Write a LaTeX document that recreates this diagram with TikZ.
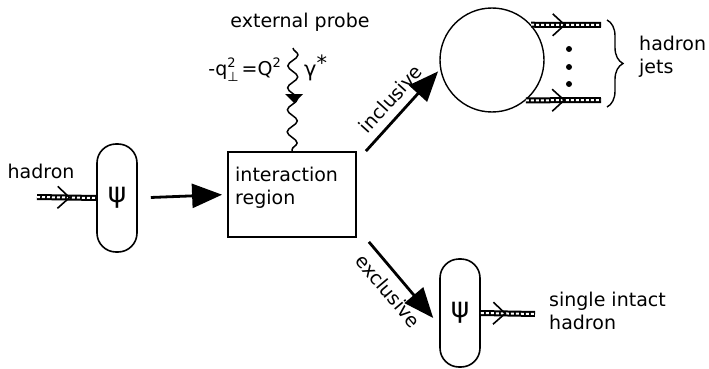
\documentclass[tikz,border=0pt]{standalone}
\usepackage{fontspec}
\setmainfont{DejaVu Sans}
\usetikzlibrary{arrows.meta,decorations.pathmorphing,decorations.pathreplacing,decorations.markings}
\newcommand{\smallsup}[2]{\raisebox{#1}{\fontsize{13}{13}\selectfont #2}}
\begin{document}
\begin{tikzpicture}[x=1pt,y=-1pt,
  lbl/.style={font=\fontsize{19}{22.5}\selectfont, align=left, inner sep=0pt},
  capsule/.style={draw, line width=1.6pt, rounded corners=19pt, minimum width=40pt, minimum height=108pt, inner sep=0pt, font=\fontsize{28}{28}\selectfont},
  bigarrow/.style={line width=2.8pt, -{Triangle[length=30pt,width=24pt]}},
  hadronline/.style={line width=6pt, postaction={draw=white, line width=2pt, dash pattern=on 3pt off 2pt}, postaction={decorate, decoration={markings, mark=at position #1 with {\draw[black, line width=1.6pt, solid] (-12pt,11pt) -- (0pt,0pt) -- (-12pt,-11pt);}}}},
  photon/.style={line width=1.5pt, decorate, decoration={snake, amplitude=5pt, segment length=22pt}}]
\useasboundingbox (0,0) rectangle (709,369);
\node[lbl] (hadlbl) at (41,171) {hadron};
\coordinate (hin) at (37,197);
\node[capsule] (capl) at (117,198) {ψ};
\node[draw, line width=1.8pt, minimum width=128pt, minimum height=85pt, inner sep=0pt] (box) at (292,194.5) {};
\node[lbl, anchor=north west] (boxtxt) at (235,167) {interaction\\region};
\node[lbl] (extlbl) at (300,22) {external probe};
\coordinate (probe) at (293,48);
\coordinate (pmid) at (294,98);
\node[lbl, anchor=east] (qeq) at (281,70) {-q\rlap{\smallsup{-6pt}{⊥}}\smallsup{8pt}{2} =Q\smallsup{8pt}{2}};
\node[lbl, anchor=west, font=\fontsize{21}{22}\selectfont] (gam) at (304,68) {γ\raisebox{6pt}{*}};
\node[draw, circle, line width=1.4pt, minimum size=104pt, inner sep=0pt] (circ) at (492,60) {};
\coordinate (jt) at (601,25);
\coordinate (jb) at (601,100);
\fill (569,49) circle (3) (569,67) circle (3) (569,84) circle (3);
\coordinate (bt) at (607,20);
\coordinate (bb) at (607,107);
\node[lbl, anchor=west] (jetlbl) at (639,57) {hadron\\jets};
\node[capsule] (capr) at (460,313) {ψ};
\coordinate (hout) at (535,314);
\node[lbl, anchor=west] (singlbl) at (549,311) {single intact\\hadron};
\draw[hadronline=0.55] (hin) -- (capl.west);
\draw[bigarrow, shorten <=13pt, shorten >=5pt] (capl.east) -- (box.west);
\draw[photon] (probe) -- (box.north);
\fill ([xshift=-9pt,yshift=4pt]pmid) -- ([xshift=9pt,yshift=4pt]pmid) -- ([yshift=-5pt]pmid) -- cycle;
\draw[bigarrow, shorten >=3pt] ([xshift=9pt]box.north east) -- node[sloped, above=8pt, lbl] (inclbl) {inclusive} (circ.190);
\draw[bigarrow] ([xshift=12pt,yshift=-4pt]box.south east) -- node[sloped, below=8pt, lbl] (exclbl) {exclusive} ([xshift=-6pt,yshift=-5pt]capr.west);
\draw[hadronline=0.48] (circ.42) -- (jt);
\draw[hadronline=0.51] (circ.-50) -- (jb);
\draw[line width=1.4pt, decorate, decoration={brace, amplitude=16pt}] (bt) -- (bb);
\draw[hadronline=0.45] (capr.east) -- (hout);
\end{tikzpicture}
\end{document}
